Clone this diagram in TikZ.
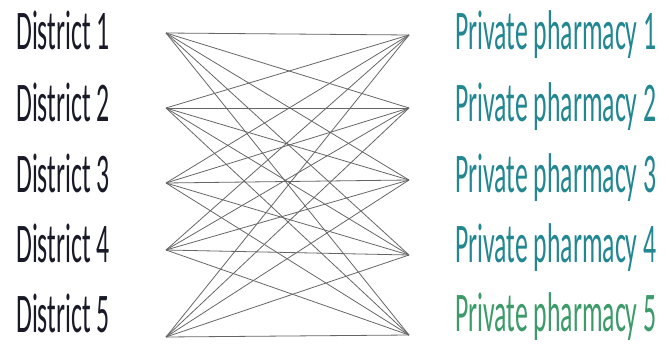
\documentclass[tikz,border=0pt]{standalone}
\usepackage{fontspec}
\newfontfamily\labelfont{Carlito}[FakeStretch=0.46]
\definecolor{distdark}{RGB}{25,25,40}
\definecolor{pharmteal}{RGB}{35,135,145}
\definecolor{pharmgreen}{RGB}{60,155,105}
\begin{document}
\begin{tikzpicture}[x=1pt, y=-1pt,
      lbl/.style={anchor=base west, inner sep=0pt, font=\labelfont\fontsize{56}{60}\selectfont},
      link/.style={draw=black!60, line width=0.8pt}]
    \useasboundingbox (0,0) rectangle (669,345);
    % end points of the links
    \foreach \i/\y in {1/33,2/108,3/183,4/250,5/337}
      \coordinate (a\i) at (166,\y);
    \foreach \j/\y in {1/35,2/108,3/180,4/255,5/335}
      \coordinate (b\j) at (409,\y);
    \foreach \i in {1,...,5}
      \foreach \j in {1,...,5}
        \draw[link] (a\i) -- (b\j);
    % labels
    \node[lbl, text=distdark] (d1) at (16,50)  {District 1};
    \node[lbl, text=distdark] (d2) at (16,121) {District 2};
    \node[lbl, text=distdark] (d3) at (16,192) {District 3};
    \node[lbl, text=distdark] (d4) at (16,262) {District 4};
    \node[lbl, text=distdark] (d5) at (16,332) {District 5};
    \node[lbl, text=pharmteal]  (p1) at (455,50)  {Private pharmacy 1};
    \node[lbl, text=pharmteal]  (p2) at (455,121) {Private pharmacy 2};
    \node[lbl, text=pharmteal]  (p3) at (455,192) {Private pharmacy 3};
    \node[lbl, text=pharmteal]  (p4) at (455,262) {Private pharmacy 4};
    \node[lbl, text=pharmgreen] (p5) at (455,331) {Private pharmacy 5};
  \end{tikzpicture}
\end{document}
